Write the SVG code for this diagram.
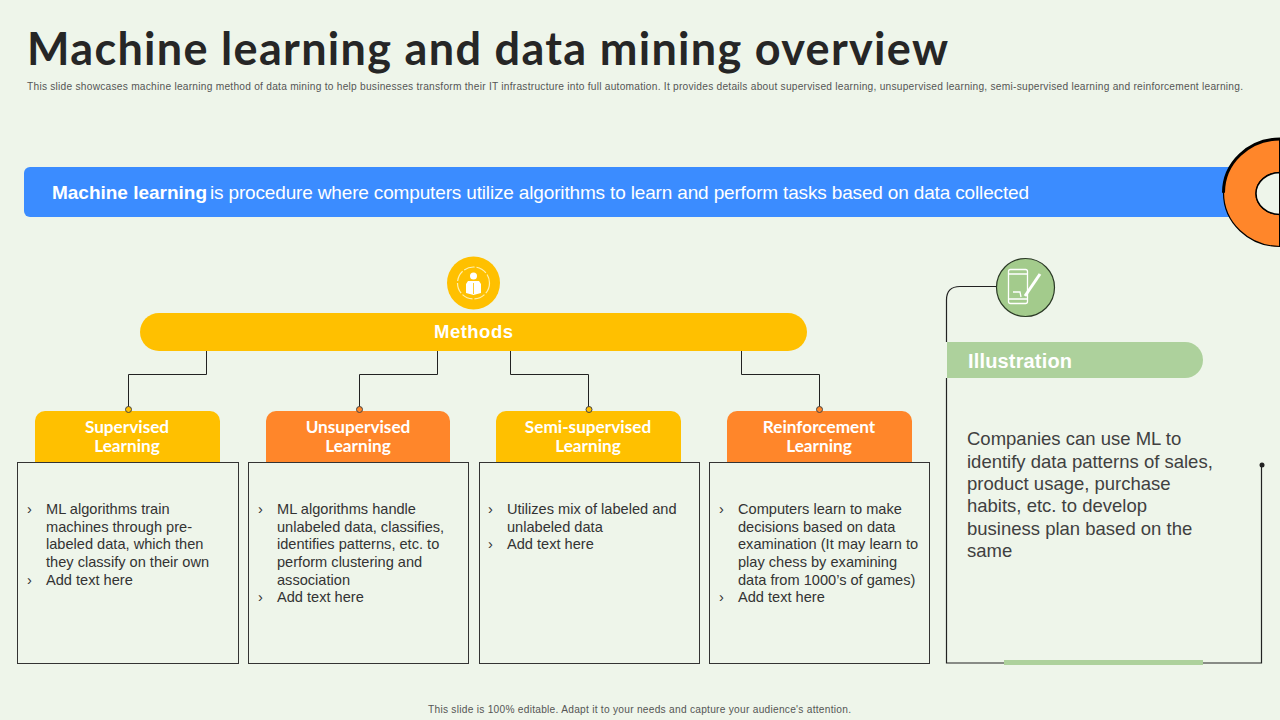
<svg xmlns="http://www.w3.org/2000/svg" width="1280" height="720" viewBox="0 0 1280 720">
<style>
text{font-family:"Liberation Sans",Arial,sans-serif}
.body{font-size:14.6px;fill:#333}
.head{font-size:17.2px;font-weight:bold;fill:#fff;text-anchor:middle;font-family:Lato,"Liberation Sans",sans-serif}
.box{fill:none;stroke:#333;stroke-width:1}
.conn{fill:none;stroke:#222;stroke-width:1}
.y{fill:#ffc000}.o{fill:#ff862a}
.dot{stroke:#444;stroke-width:1}
.ic{fill:none;stroke:#fff;stroke-width:1.300}
</style>
<rect width="1280" height="720" fill="#eef5ea"/>
<text id="title" x="27" y="65" font-size="45" font-weight="bold" fill="#262626" textLength="921" style="font-family:Lato,'Liberation Sans',sans-serif">Machine learning and data mining overview</text>
<text id="subtitle" x="27" y="90" font-size="10.200" fill="#555" textLength="1216">This slide showcases machine learning method of data mining to help businesses transform their IT  infrastructure into full automation.  It provides details about supervised learning, unsupervised learning, semi-supervised learning and reinforcement learning.</text>
<g id="banner">
<path d="M30 167H1240V217H30a6 6 0 0 1-6-6V173a6 6 0 0 1 6-6z" fill="#3b8cff"/>
<text x="52" y="199" font-size="19" font-weight="bold" fill="#fff" textLength="155">Machine learning</text>
<text x="210" y="199" font-size="19" fill="#fff" textLength="819">is procedure where computers utilize algorithms to learn and perform tasks based on data collected</text>
</g>
<g id="ring">
<path d="M1280 139A56.500 53.750 0 0 0 1280 246.500V214.500A24 21 0 0 1 1280 172.500Z" fill="#ff862a" stroke="#000" stroke-width="1.200"/>
<path d="M1280 139A56.500 53.750 0 0 0 1223.500 192.750" fill="none" stroke="#000" stroke-width="3"/>
<path d="M1280 172.500A24 21 0 0 0 1280 214.500Z" fill="#eef5ea" stroke="#000" stroke-width="1.500"/>
<path d="M1279.500 139V246.500" stroke="#000" stroke-width="1"/>
</g>
<g id="connectors">
<path class="conn" d="M206.500 350V374.500H128.500V409"/>
<path class="conn" d="M437.500 350V374.500H359.500V409"/>
<path class="conn" d="M510.500 350V374.500H588.500V409"/>
<path class="conn" d="M741.500 350V374.500H819.500V409"/>
<path d="M946.500 342V300Q946.500 286.500 960 286.500H998" fill="none" stroke="#222" stroke-width="1.200"/>
<path d="M946.500 378V663H1261.500V465" fill="none" stroke="#222" stroke-width="1.200"/>
</g>
<g id="methods-icon">
<circle cx="473.500" cy="283" r="26.500" fill="#ffc000"/>
<circle cx="473.500" cy="283" r="16" fill="none" stroke="#fff0b0" stroke-width="1.200" stroke-dasharray="11 2"/>
<circle cx="473.500" cy="276" r="3.500" fill="#fff"/>
<path d="M468 281h11l2 3v9l-7.500 2-7.500-2v-9z" fill="#fff"/>
<path d="M473.500 283v11" stroke="#ffc000" stroke-width=".8"/>
</g>
<g id="methods">
<rect x="140" y="313" width="667" height="38" rx="19" fill="#ffc000"/>
<text x="434" y="338" font-size="18.500" font-weight="bold" fill="#fff" textLength="79">Methods</text>
</g>
<g id="supervised">
<path class="y" d="M45 411H210a10 10 0 0 1 10 10V462H35V421a10 10 0 0 1 10-10z"/>
<circle class="y dot" cx="128.500" cy="409.500" r="3"/>
<text class="head"><tspan x="127" y="433">Supervised</tspan><tspan x="127" y="452">Learning</tspan></text>
<rect class="box" x="17.500" y="462.500" width="221" height="201"/>
<text class="body" x="27" y="514">›</text><text class="body" x="46" y="514">ML algorithms train</text>
<text class="body" x="46" y="532">machines through pre-</text>
<text class="body" x="46" y="549">labeled data, which then</text>
<text class="body" x="46" y="567">they classify on their own</text>
<text class="body" x="27" y="585">›</text><text class="body" x="46" y="585">Add text here</text>
</g>
<g id="unsupervised">
<path class="o" d="M276 411H440a10 10 0 0 1 10 10V462H266V421a10 10 0 0 1 10-10z"/>
<circle class="o dot" cx="359.500" cy="409.500" r="3"/>
<text class="head"><tspan x="358" y="433">Unsupervised</tspan><tspan x="358" y="452">Learning</tspan></text>
<rect class="box" x="248.500" y="462.500" width="220" height="201"/>
<text class="body" x="258" y="514">›</text><text class="body" x="277" y="514">ML algorithms handle</text>
<text class="body" x="277" y="532">unlabeled data, classifies,</text>
<text class="body" x="277" y="549">identifies patterns, etc. to</text>
<text class="body" x="277" y="567">perform clustering and</text>
<text class="body" x="277" y="585">association</text>
<text class="body" x="258" y="602">›</text><text class="body" x="277" y="602">Add text here</text>
</g>
<g id="semi-supervised">
<path class="y" d="M506 411H671a10 10 0 0 1 10 10V462H496V421a10 10 0 0 1 10-10z"/>
<circle class="y dot" cx="589" cy="409.500" r="3"/>
<text class="head"><tspan x="588" y="433">Semi-supervised</tspan><tspan x="588" y="452">Learning</tspan></text>
<rect class="box" x="479.500" y="462.500" width="220" height="201"/>
<text class="body" x="488" y="514">›</text><text class="body" x="507" y="514">Utilizes mix of labeled and</text>
<text class="body" x="507" y="532">unlabeled data</text>
<text class="body" x="488" y="549">›</text><text class="body" x="507" y="549">Add text here</text>
</g>
<g id="reinforcement">
<path class="o" d="M737 411H902a10 10 0 0 1 10 10V462H727V421a10 10 0 0 1 10-10z"/>
<circle class="o dot" cx="819.500" cy="409.500" r="3"/>
<text class="head"><tspan x="819" y="433">Reinforcement</tspan><tspan x="819" y="452">Learning</tspan></text>
<rect class="box" x="709.500" y="462.500" width="220" height="201"/>
<text class="body" x="719" y="514">›</text><text class="body" x="738" y="514">Computers learn to make</text>
<text class="body" x="738" y="532">decisions based on data</text>
<text class="body" x="738" y="549">examination (It may learn to</text>
<text class="body" x="738" y="567">play chess by examining</text>
<text class="body" x="738" y="585">data from 1000’s of games)</text>
<text class="body" x="719" y="602">›</text><text class="body" x="738" y="602">Add text here</text>
</g>
<g id="illustration-icon">
<circle cx="1025.500" cy="287.500" r="29" fill="#a3cb8c" stroke="#2b3a26" stroke-width="1.200"/>
<rect class="ic" x="1008.500" y="269.500" width="19" height="34" rx="2"/>
<path class="ic" d="M1008.500 274H1027.500M1008.500 299H1027.500M1013 292H1020L1021 297"/>
<path d="M1025 296L1040 274" stroke="#fff" stroke-width="3" fill="none"/>
</g>
<g id="illustration">
<path d="M947 342H1185a18 18 0 0 1 0 36H947z" fill="#add19c"/>
<text x="968" y="368" font-size="20" font-weight="bold" fill="#fff" textLength="104">Illustration</text>
<circle cx="1262" cy="465" r="2.500" fill="#222"/>
<rect x="1004" y="660" width="199" height="5" fill="#add19c"/>
<g font-size="18.500" fill="#404040">
<text x="967" y="445">Companies can use ML to</text>
<text x="967" y="468">identify data patterns of sales,</text>
<text x="967" y="490">product usage, purchase</text>
<text x="967" y="512">habits, etc. to develop</text>
<text x="967" y="535">business plan based on the</text>
<text x="967" y="557">same</text>
</g>
</g>
<text id="footer" x="428" y="713" font-size="10.200" fill="#555" textLength="423">This slide is 100% editable.  Adapt it to your needs and capture your audience's attention.</text>
</svg>
